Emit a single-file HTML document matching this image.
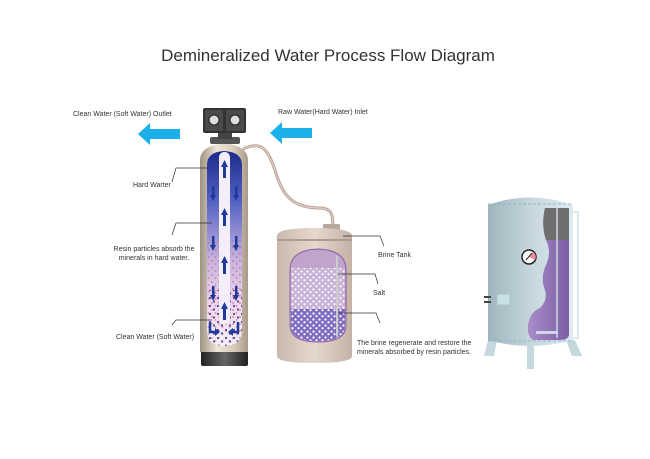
<!DOCTYPE html>
<html><head><meta charset="utf-8"><style>
html,body{margin:0;padding:0;background:#fff;}
svg{display:block;font-family:"Liberation Sans",sans-serif;}
</style></head><body>
<svg width="650" height="459" viewBox="0 0 650 459" xmlns="http://www.w3.org/2000/svg">
<defs>
<linearGradient id="tan" x1="0" x2="1"><stop offset="0" stop-color="#9e9182"/><stop offset="0.35" stop-color="#efe6d6"/><stop offset="0.7" stop-color="#d9cdbb"/><stop offset="1" stop-color="#a89a88"/></linearGradient>
<linearGradient id="brine" x1="0" x2="1"><stop offset="0" stop-color="#c9b9ad"/><stop offset="0.5" stop-color="#e5d8cc"/><stop offset="1" stop-color="#c3b2a5"/></linearGradient>
<linearGradient id="col" x1="0" y1="0" x2="0" y2="1"><stop offset="0" stop-color="#1d2a8c"/><stop offset="0.25" stop-color="#5060c0"/><stop offset="0.55" stop-color="#c5b0e0"/><stop offset="0.8" stop-color="#f1d8ee"/><stop offset="1" stop-color="#f7f0f7"/></linearGradient>
<linearGradient id="base" x1="0" x2="1"><stop offset="0" stop-color="#222"/><stop offset="0.5" stop-color="#666"/><stop offset="1" stop-color="#222"/></linearGradient>
<linearGradient id="steel" x1="0" x2="1"><stop offset="0" stop-color="#9fb5bd"/><stop offset="0.5" stop-color="#c6d6dc"/><stop offset="1" stop-color="#dcecf1"/></linearGradient>
<linearGradient id="purp" x1="0" x2="1"><stop offset="0" stop-color="#a98cc9"/><stop offset="1" stop-color="#7a5fa3"/></linearGradient>
<pattern id="dotsR" width="7" height="7" patternUnits="userSpaceOnUse"><circle cx="2" cy="2" r="0.9" fill="#b05050"/><circle cx="5.5" cy="5" r="0.9" fill="#b06060"/></pattern>
<pattern id="dotsB" width="8" height="8" patternUnits="userSpaceOnUse"><circle cx="2" cy="2" r="1.1" fill="#5a3fa0"/><circle cx="6" cy="5.5" r="1.1" fill="#5a3fa0"/></pattern>
<pattern id="dotsW" width="6" height="6" patternUnits="userSpaceOnUse"><circle cx="1.5" cy="1.5" r="1.1" fill="#fff"/><circle cx="4.5" cy="4.2" r="1.1" fill="#fff"/></pattern>
</defs>
<text x="328" y="61" font-size="17" text-anchor="middle" fill="#333">Demineralized Water Process Flow Diagram</text>
<text x="73" y="116" font-size="7" fill="#333">Clean Water (Soft Water) Outlet</text>
<text x="278" y="114" font-size="7" fill="#333">Raw Water(Hard Water) Inlet</text>
<polygon points="138,134 150,123 150,129 180,129 180,139 150,139 150,145" fill="#1bb0ea"/>
<polygon points="270,133 282,122 282,128 312,128 312,138 282,138 282,144" fill="#1bb0ea"/>
<path d="M243,149 C262,140 268,150 275,170 C282,195 292,208 320,208 C332,208 333,215 333,228" fill="none" stroke="#b59e93" stroke-width="3"/>
<path d="M243,149 C262,140 268,150 275,170 C282,195 292,208 320,208 C332,208 333,215 333,228" fill="none" stroke="#e0cfc6" stroke-width="1.2"/>
<rect x="201" y="348" width="47" height="18" rx="2" fill="url(#base)"/>
<path d="M200,160 Q200,146 224,143 Q248,146 248,160 L248,352 L200,352 Z" fill="url(#tan)"/>
<path d="M207,165 Q207,152 224,151 Q242,152 242,165 L242,330 Q242,346 224,346 Q207,346 207,330 Z" fill="url(#col)"/>
<path d="M207,240 L242,240 L242,330 Q242,346 224,346 Q207,346 207,330 Z" fill="url(#dotsR)" opacity="0.6"/>
<path d="M207,290 L242,290 L242,330 Q242,346 224,346 Q207,346 207,330 Z" fill="url(#dotsB)"/>
<rect x="219" y="152" width="11" height="172" rx="5" fill="#f4eef8"/>
<g fill="#1e3a9c">
<rect x="223" y="166" width="3" height="12"/><polygon points="221,167 224.5,160 228,167"/>
<rect x="223" y="214" width="3" height="12"/><polygon points="221,215 224.5,208 228,215"/>
<rect x="223" y="262" width="3" height="12"/><polygon points="221,263 224.5,256 228,263"/>
<rect x="223" y="308" width="3" height="12"/><polygon points="221,309 224.5,302 228,309"/>
<rect x="212" y="186" width="2.5" height="10"/><polygon points="210,195 213,201 216,195"/>
<rect x="235" y="186" width="2.5" height="10"/><polygon points="233,195 236,201 239,195"/>
<rect x="212" y="236" width="2.5" height="10"/><polygon points="210,245 213,251 216,245"/>
<rect x="235" y="236" width="2.5" height="10"/><polygon points="233,245 236,251 239,245"/>
<rect x="212" y="286" width="2.5" height="10"/><polygon points="210,295 213,301 216,295"/>
<rect x="235" y="286" width="2.5" height="10"/><polygon points="233,295 236,301 239,295"/>
<path d="M210,322 v10 h6" stroke="#1e3a9c" stroke-width="2.5" fill="none"/><polygon points="215,328 220,332 215,336"/>
<path d="M238,322 v10 h-6" stroke="#1e3a9c" stroke-width="2.5" fill="none"/><polygon points="233,328 228,332 233,336"/>
</g>
<rect x="210" y="137" width="30" height="7" rx="2" fill="#555"/>
<rect x="218" y="131" width="14" height="8" fill="#444"/>
<rect x="203" y="108" width="43" height="25" rx="2" fill="#333"/>
<rect x="205" y="110" width="18" height="21" fill="#4a4a4a"/><rect x="226" y="110" width="18" height="21" fill="#4a4a4a"/>
<circle cx="214" cy="120" r="5" fill="#ddd" stroke="#222"/><circle cx="235" cy="120" r="5" fill="#ddd" stroke="#222"/>
<rect x="323" y="224" width="17" height="7" rx="1" fill="#b8a89c"/>
<path d="M277,236 Q277,228 314,228 Q352,228 352,236 L352,356 Q352,363 314,363 Q277,363 277,356 Z" fill="url(#brine)"/>
<rect x="277" y="239" width="75" height="2" fill="#b09a8c"/>
<path d="M290,270 Q290,250 318,249 Q346,250 346,270 L346,325 Q346,342 318,342 Q290,342 290,325 Z" fill="#c0a4cc" stroke="#8a5ea8" stroke-width="1"/>
<path d="M291,268 L345,268 L345,310 L291,310 Z" fill="#c8b0d6"/>
<path d="M291,309 L345,309 L345,325 Q345,341 318,341 Q291,341 291,325 Z" fill="#7e6cc0"/>
<path d="M291,268 L345,268 L345,325 Q345,341 318,341 Q291,341 291,325 Z" fill="url(#dotsW)"/>
<rect x="336" y="256" width="2" height="80" fill="#ccc"/>
<polygon points="488,340 497,340 494,356 484,356" fill="#c4d8de"/>
<polygon points="566,340 575,340 582,356 572,356" fill="#c4d8de"/>
<rect x="527" y="340" width="7" height="29" fill="#c4d8de"/>
<path d="M488,205 Q530,190 573,205 L573,340 Q530,352 488,340 Z" fill="url(#steel)"/>
<line x1="488" y1="204" x2="573" y2="204" stroke="#8fb6c8" stroke-dasharray="3,2"/>
<line x1="488" y1="341" x2="573" y2="341" stroke="#8fb6c8" stroke-dasharray="3,2"/>
<path d="M545,208 L569,208 L569,334 Q569,340 560,340 L534,340 Q527,338 528,325 Q530,312 540,308 Q548,300 545,290 Q540,278 546,265 Q552,252 546,240 Q541,225 545,208 Z" fill="url(#purp)"/>
<path d="M545,208 L569,208 L569,240 L546,240 Q541,225 545,208 Z" fill="#6f6f6f"/>
<line x1="557" y1="208" x2="557" y2="338" stroke="#cfd8e6" stroke-width="1.5"/>
<rect x="536" y="331" width="22" height="3" fill="#cfd8e6"/>
<path d="M572,212 h6 v126 h-6" fill="none" stroke="#dde9ee" stroke-width="2"/>
<circle cx="529" cy="257" r="7" fill="#fff" stroke="#222" stroke-width="1.5"/>
<path d="M529,257 L533,252 A6,6 0 0,1 535,260 Z" fill="#f28a9a"/>
<line x1="526" y1="260" x2="532" y2="253" stroke="#222"/>
<rect x="497" y="294" width="13" height="11" fill="#c9dfe6" stroke="#a9c3cc"/>
<rect x="484" y="296" width="7" height="2" fill="#444"/><rect x="484" y="301" width="7" height="2" fill="#444"/>
<g fill="none" stroke="#333" stroke-width="0.7">
<polyline points="172,182 176,168 210,168"/>
<polyline points="172,235 176,223 212,223"/>
<polyline points="172,325 176,320 212,320"/>
<polyline points="343,236 380,236 384,246"/>
<polyline points="338,274 375,274 378,284"/>
<polyline points="338,313 376,313 380,323"/>
</g>
<g font-size="7" fill="#333">
<text x="133" y="187">Hard Warter</text>
<text x="154" y="251" text-anchor="middle">Resin particles absorb the</text>
<text x="154" y="260" text-anchor="middle">minerals in hard water.</text>
<text x="116" y="339">Clean Water (Soft Water)</text>
<text x="378" y="257">Brine Tank</text>
<text x="373" y="295">Salt</text>
<text x="357" y="345">The brine regenerate and restore  the</text>
<text x="357" y="354">minerals absorbed by resin particles.</text>
</g>
</svg>
</body></html>
